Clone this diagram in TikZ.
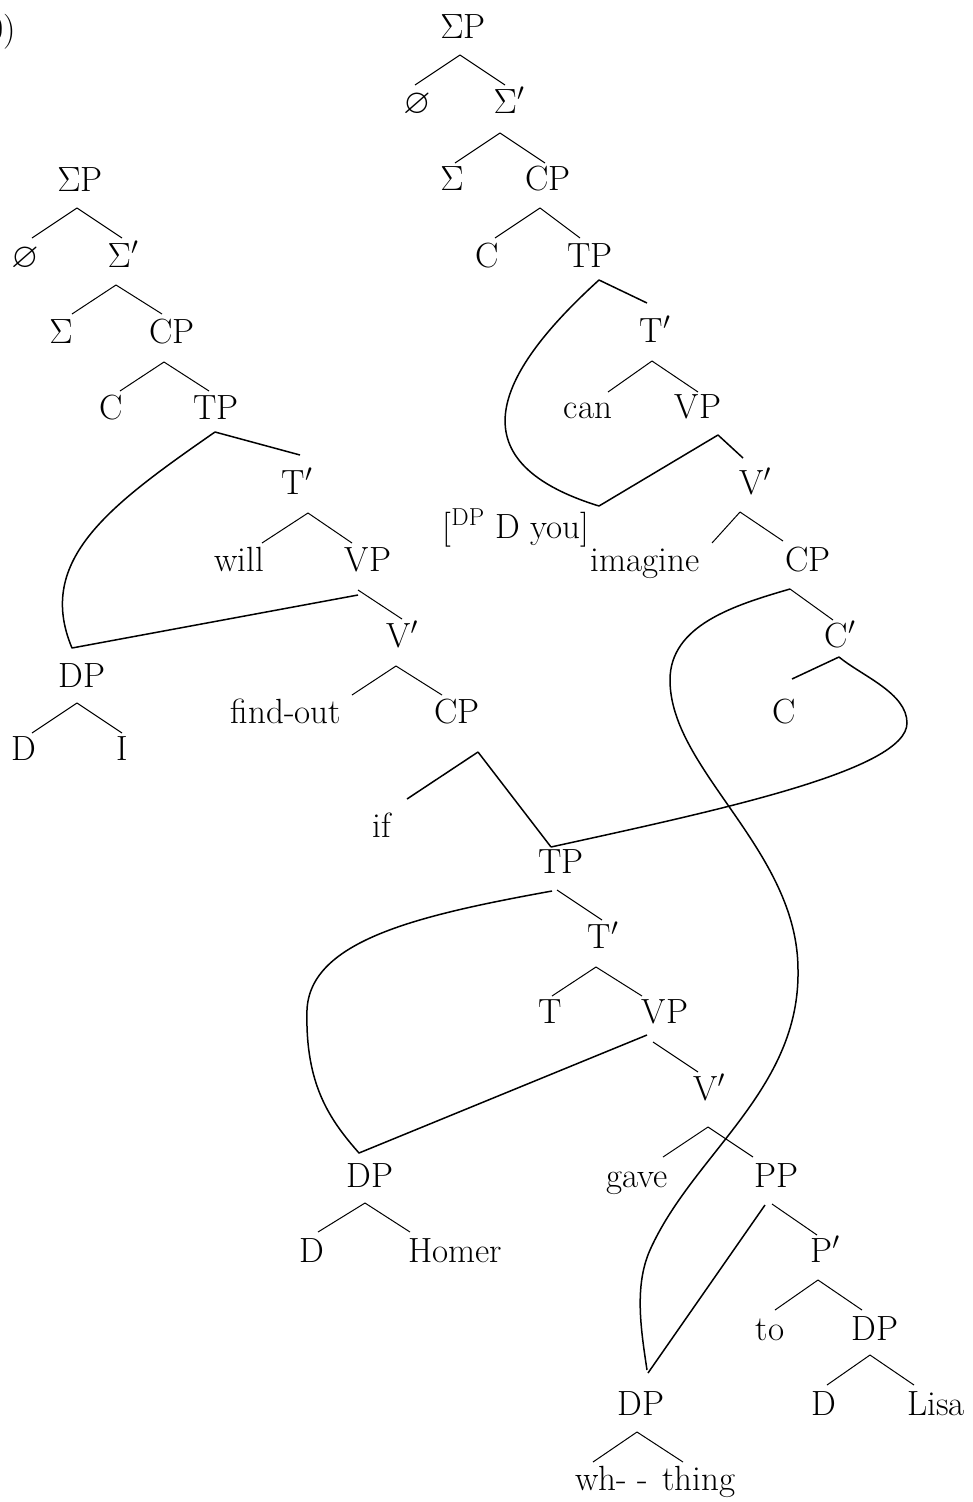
\RequirePackage{fix-cm}
\documentclass[tikz,border=0pt]{standalone}
\usepackage{amssymb}
\tikzset{
 lab/.style={font=\fontsize{35}{42}\selectfont, inner sep=0pt, anchor=base},
 br/.style={line width=1pt},
 mv/.style={line width=1.5pt, line join=round},
}
\newcommand{\TBr}[7][br]{\draw[#1] ([shift={(#3,#4)}]#2.base) -- ([shift={(#6,#7)}]#5.base);}
\begin{document}
\begin{tikzpicture}[x=1pt,y=-1pt]
\useasboundingbox (0,0) rectangle (972,1502);
\node[lab,anchor=base east] (num) at (16,40) {0)};
% tree B
\node[lab] (bSP) at (463,38) {$\Sigma$P};
\node[lab] (bE) at (417,113) {$\varnothing$};
\node[lab] (bSb) at (509,113) {$\Sigma'$};
\node[lab] (bS) at (452,190) {$\Sigma$};
\node[lab] (bCP) at (548,190) {CP};
\node[lab] (bC) at (487,267) {C};
\node[lab] (bTP) at (590,267) {TP};
\node[lab] (bTb) at (655,342) {T$'$};
\node[lab] (bcan) at (588,418) {can};
\node[lab] (bVP) at (698,418) {VP};
\node[lab] (bVb) at (755,494) {V$'$};
\node[lab] (bDyou) at (516,538) {[\textsuperscript{DP} D you]};
\node[lab] (bimag) at (645,571) {imagine};
\node[lab] (bCP2) at (808,571) {CP};
\node[lab] (bCb) at (840,647) {C$'$};
\node[lab] (bC2) at (784,723) {C};
% tree A
\node[lab] (aSP) at (80,191) {$\Sigma$P};
\node[lab] (aE) at (25,267) {$\varnothing$};
\node[lab] (aSb) at (123,267) {$\Sigma'$};
\node[lab] (aS) at (61,343) {$\Sigma$};
\node[lab] (aCP) at (172,343) {CP};
\node[lab] (aC) at (111,419) {C};
\node[lab] (aTP) at (216,419) {TP};
\node[lab] (aTb) at (297,494) {T$'$};
\node[lab] (awill) at (239,571) {will};
\node[lab] (aVP) at (368,571) {VP};
\node[lab] (aVb) at (402,647) {V$'$};
\node[lab] (aDP) at (82,687) {DP};
\node[lab] (afind) at (286,723) {find-out};
\node[lab] (aCP2) at (457,723) {CP};
\node[lab] (aD) at (24,760) {D};
\node[lab] (aI) at (122,760) {I};
% shared lower part
\node[lab] (mif) at (382,837) {if};
\node[lab] (mTP) at (561,873) {TP};
\node[lab] (mTb) at (603,948) {T$'$};
\node[lab] (mT) at (550,1023) {T};
\node[lab] (mVP) at (665,1023) {VP};
\node[lab] (mVb) at (709,1100) {V$'$};
\node[lab] (hDP) at (370,1187) {DP};
\node[lab] (mgave) at (637,1187) {gave};
\node[lab] (mPP) at (776,1187) {PP};
\node[lab] (hD) at (312,1262) {D};
\node[lab] (hHomer) at (455,1262) {Homer};
\node[lab] (mPb) at (825,1262) {P$'$};
\node[lab] (mto) at (770,1340) {to};
\node[lab] (lDP) at (875,1340) {DP};
\node[lab] (lD) at (824,1415) {D};
\node[lab] (lLisa) at (936,1415) {Lisa};
\node[lab] (wDP) at (641,1415) {DP};
\node[lab] (wwh) at (612,1490) {wh- -};
\node[lab] (wthing) at (699,1490) {thing};
% edges tree B
\TBr{bSP}{-3}{17}{bE}{-2}{-28}
\TBr{bSP}{-3}{17}{bSb}{-4}{-28}
\TBr{bSb}{-9}{20}{bS}{3}{-27}
\TBr{bSb}{-9}{20}{bCP}{-3}{-27}
\TBr{bCP}{-8}{18}{bC}{8}{-29}
\TBr{bCP}{-8}{18}{bTP}{-10}{-29}
\TBr[mv]{bTP}{9}{13}{bTb}{-8}{-39}
\TBr{bTb}{-3}{19}{bcan}{20}{-26}
\TBr{bTb}{-3}{19}{bVP}{0}{-26}
\TBr[mv]{bVP}{20}{17}{bVb}{-12}{-36}
\draw[mv] ([shift={(9,13)}]bTP.base) .. controls (500,370) and (450,460) .. ([shift={(83,-32)}]bDyou.base) -- ([shift={(20,17)}]bVP.base);
\TBr{bVb}{-15}{18}{bimag}{67}{-28}
\TBr{bVb}{-15}{18}{bCP2}{-25}{-30}
\TBr{bCP2}{-18}{18}{bCb}{-7}{-27}
\TBr[mv]{bCb}{-1}{10}{bC2}{8}{-44}
\draw[mv] ([shift={(-18,18)}]bCP2.base) .. controls (735,605) and (670,625) .. (670,680) .. controls (670,770) and (798,850) .. (798,970) .. controls (800,1090) and (693,1154) .. (650,1250) .. controls (634,1286) and (641,1330) .. ([shift={(6,-45)}]wDP.base);
\draw[mv] ([shift={(-1,10)}]bCb.base) .. controls (862,676) and (907,693) .. (907,723) .. controls (907,770) and (720,810) .. ([shift={(-10,-26)}]mTP.base);
% edges tree A
\TBr{aSP}{-3}{17}{aE}{7}{-29}
\TBr{aSP}{-3}{17}{aSb}{-1}{-29}
\TBr{aSb}{-7}{18}{aS}{11}{-29}
\TBr{aSb}{-7}{18}{aCP}{-10}{-29}
\TBr{aCP}{-8}{19}{aC}{9}{-28}
\TBr{aCP}{-8}{19}{aTP}{-7}{-28}
\TBr[mv]{aTP}{-1}{13}{aTb}{3}{-39}
\TBr{aTb}{11}{19}{awill}{23}{-28}
\TBr{aTb}{11}{19}{aVP}{-16}{-28}
\TBr{aVP}{-10}{19}{aVb}{0}{-28}
\draw[mv] ([shift={(-1,13)}]aTP.base) .. controls (110,505) and (35,560) .. ([shift={(-10,-39)}]aDP.base) -- ([shift={(-10,24)}]aVP.base);
\TBr{aVb}{-6}{19}{afind}{66}{-28}
\TBr{aVb}{-6}{19}{aCP2}{-15}{-28}
\TBr{aDP}{-5}{16}{aD}{8}{-27}
\TBr{aDP}{-5}{16}{aI}{0}{-27}
\TBr[mv]{aCP2}{21}{29}{mif}{25}{-38}
\TBr[mv]{aCP2}{21}{29}{mTP}{-10}{-26}
% lower part
\TBr{mTP}{-4}{17}{mTb}{-1}{-28}
\draw[mv] ([shift={(-9,18)}]mTP.base) .. controls (420,915) and (310,940) .. (307,1010) .. controls (305,1085) and (330,1120) .. ([shift={(-11,-34)}]hDP.base) -- ([shift={(-18,12)}]mVP.base);
\TBr{mTb}{-7}{19}{mT}{2}{-27}
\TBr{mTb}{-7}{19}{mVP}{-23}{-27}
\TBr{mVP}{-12}{19}{mVb}{-11}{-28}
\TBr{mVb}{-1}{27}{mgave}{26}{-30}
\TBr{mVb}{-1}{27}{mPP}{-23}{-30}
\TBr{hDP}{-5}{16}{hD}{6}{-30}
\TBr{hDP}{-5}{16}{hHomer}{-45}{-30}
\TBr{mPP}{-4}{17}{mPb}{-8}{-27}
\TBr[mv]{mPP}{-11}{18}{wDP}{7}{-42}
\TBr{mPb}{-7}{18}{mto}{5}{-30}
\TBr{mPb}{-7}{18}{lDP}{-13}{-30}
\TBr{lDP}{-5}{15}{lD}{3}{-30}
\TBr{lDP}{-5}{15}{lLisa}{-22}{-30}
\TBr{wDP}{-4}{17}{wwh}{-19}{-28}
\TBr{wDP}{-4}{17}{wthing}{-16}{-28}
\end{tikzpicture}
\end{document}
